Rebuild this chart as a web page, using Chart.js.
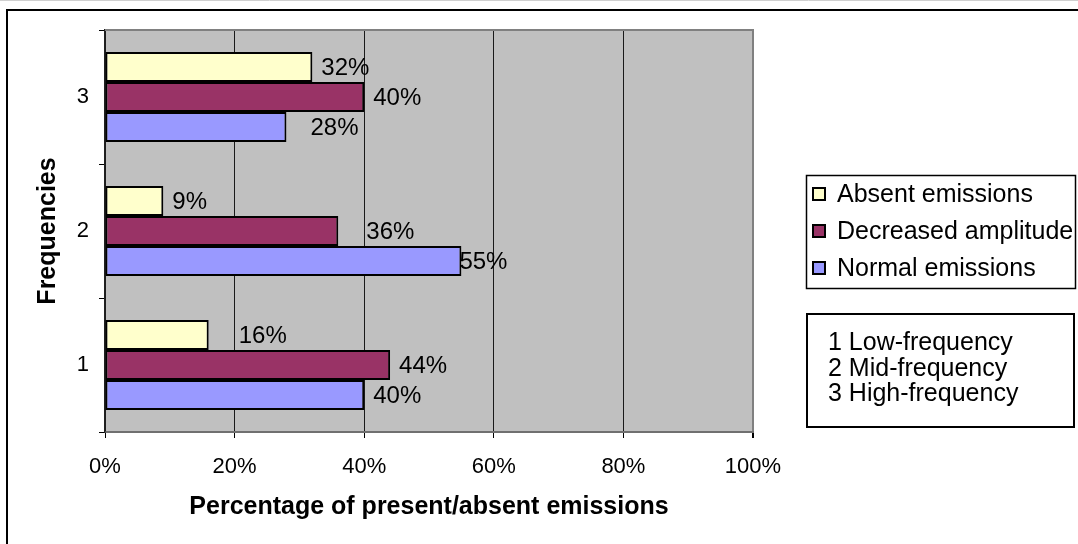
<!DOCTYPE html>
<html>
<head>
<meta charset="utf-8">
<script src="https://cdn.jsdelivr.net/npm/chart.js@4.4.1/dist/chart.umd.min.js"></script>
<style>
  html, body { margin: 0; padding: 0; background: #ffffff; }
  canvas { display: block; }
</style>
</head>
<body>
<canvas id="chart" width="1078" height="544"></canvas>
<script>
// Categories (top to bottom) and series values, in percent
const frequencies = ['3', '2', '1'];
const absentEmissions = [32, 9, 16];
const decreasedAmplitude = [40, 36, 44];
const normalEmissions = [28, 55, 40];
const percentTicks = [0, 20, 40, 60, 80, 100];
const seriesNames = ['Absent emissions', 'Decreased amplitude', 'Normal emissions'];
const frequencyNotes = ['1 Low-frequency', '2 Mid-frequency', '3 High-frequency'];

const FONT = "'Liberation Sans', Arial, Helvetica, sans-serif";
const seriesColors = ['#FFFFCC', '#993366', '#9999FF'];
// horizontal gap (px) between each bar end and its value label
const labelGaps = [[9, 9, 30], [9, 28, 9], [24, -2, 9]];

Chart.defaults.font.family = FONT;
Chart.defaults.color = '#000';

// grey plot background + grey top edge of the plot frame
const plotFrame = {
  id: 'plotFrame',
  beforeDraw(chart) {
    const { ctx, chartArea: a } = chart;
    ctx.save();
    ctx.fillStyle = '#C0C0C0';
    ctx.fillRect(a.left, a.top, a.right - a.left, a.bottom - a.top);
    ctx.restore();
  },
  afterDraw(chart) {
    const { ctx, chartArea: a } = chart;
    ctx.save();
    ctx.strokeStyle = '#808080';
    ctx.lineWidth = 2;
    ctx.beginPath();
    ctx.moveTo(a.left, a.top);
    ctx.lineTo(a.right + 1, a.top);
    ctx.stroke();
    // outer frame of the whole figure
    ctx.strokeStyle = '#d0d0d0';
    ctx.lineWidth = 1;
    ctx.beginPath();
    ctx.moveTo(0, 0.5);
    ctx.lineTo(chart.width, 0.5);
    ctx.stroke();
    ctx.strokeStyle = '#000';
    ctx.lineWidth = 2;
    ctx.beginPath();
    ctx.moveTo(chart.width + 2, 10);
    ctx.lineTo(7, 10);
    ctx.lineTo(7, chart.height + 2);
    ctx.stroke();
    ctx.restore();
  }
};

// value labels next to each bar
const valueLabels = {
  id: 'valueLabels',
  afterDatasetsDraw(chart) {
    const { ctx } = chart;
    ctx.save();
    ctx.font = `24px ${FONT}`;
    ctx.fillStyle = '#000';
    ctx.textAlign = 'left';
    ctx.textBaseline = 'middle';
    chart.data.datasets.forEach((ds, di) => {
      const meta = chart.getDatasetMeta(di);
      meta.data.forEach((bar, i) => {
        ctx.fillText(ds.data[i] + '%', bar.x + labelGaps[di][i], bar.y + 1);
      });
    });
    ctx.restore();
  }
};

// series legend box and frequency key box on the right
const sideBoxes = {
  id: 'sideBoxes',
  afterDraw(chart) {
    const { ctx } = chart;
    ctx.save();
    // series legend
    ctx.strokeStyle = '#000';
    ctx.lineWidth = 1.5;
    ctx.strokeRect(806.5, 175.5, 269, 113);
    ctx.font = `25px ${FONT}`;
    ctx.textAlign = 'left';
    ctx.textBaseline = 'middle';
    const rows = [194, 231, 268];
    chart.data.datasets.forEach((ds, i) => {
      const y = rows[i];
      ctx.fillStyle = ds.backgroundColor;
      ctx.fillRect(813, y - 6, 12, 12);
      ctx.lineWidth = 2;
      ctx.strokeStyle = '#000';
      ctx.strokeRect(813, y - 6, 12, 12);
      ctx.fillStyle = '#000';
      ctx.fillText(ds.label, 837, y + 1);
    });
    // frequency key
    ctx.lineWidth = 2;
    ctx.strokeRect(807, 314, 267, 113);
    const lines = [342, 368, 393];
    frequencyNotes.forEach((t, i) => ctx.fillText(t, 828, lines[i] + 1));
    ctx.restore();
  }
};

new Chart(document.getElementById('chart'), {
  type: 'bar',
  data: {
    labels: frequencies,
    datasets: [
      { label: seriesNames[0], data: absentEmissions, backgroundColor: seriesColors[0] },
      { label: seriesNames[1], data: decreasedAmplitude, backgroundColor: seriesColors[1] },
      { label: seriesNames[2], data: normalEmissions, backgroundColor: seriesColors[2] }
    ].map(d => Object.assign(d, {
      borderColor: '#000',
      borderWidth: 2,
      borderSkipped: false,
      categoryPercentage: 0.672,
      barPercentage: 1.0
    }))
  },
  options: {
    indexAxis: 'y',
    responsive: false,
    animation: false,
    devicePixelRatio: 1,
    layout: { padding: { left: 0, top: 30, right: 325, bottom: 0 } },
    plugins: {
      legend: { display: false },
      tooltip: { enabled: false },
      title: { display: false }
    },
    scales: {
      x: {
        min: 0,
        max: 100,
        afterBuildTicks: s => { s.ticks = percentTicks.map(v => ({ value: v })); },
        afterFit: s => { s.height = 112; },
        ticks: {
          callback: v => v + '%',
          font: { size: 22 },
          padding: 16,
          maxRotation: 0
        },
        grid: {
          color: c => (c.tick && c.tick.value === 100) ? '#808080' : '#1a1a1a',
          lineWidth: c => (c.tick && c.tick.value === 100) ? 2 : 1,
          tickColor: '#000',
          tickLength: 6
        },
        border: { color: '#707070', width: 2 },
        title: {
          display: true,
          text: 'Percentage of present/absent emissions',
          font: { size: 25, weight: 'bold' },
          padding: { top: 0, bottom: 22 }
        }
      },
      y: {
        afterFit: s => { s.width = 105; },
        ticks: {
          font: { size: 22 },
          padding: 10
        },
        grid: {
          drawOnChartArea: false,
          offset: true,
          tickColor: '#000',
          tickLength: 6
        },
        border: { color: '#202020', width: 1.5 },
        title: {
          display: true,
          text: 'Frequencies',
          font: { size: 25, weight: 'bold' },
          padding: { top: 33, bottom: 0 }
        }
      }
    }
  },
  plugins: [plotFrame, valueLabels, sideBoxes]
});
</script>
</body>
</html>
